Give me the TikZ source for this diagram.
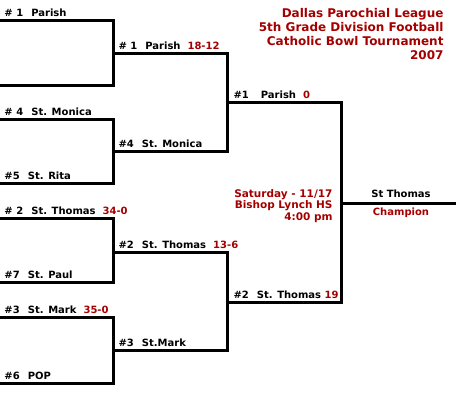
\documentclass[tikz,border=0pt]{standalone}
\usepackage{fontspec}
\setmainfont{DejaVu Sans}
\usetikzlibrary{positioning}
\definecolor{bowlred}{RGB}{165,0,0}
\tikzset{team/.style={anchor=base west,inner sep=0pt,font=\bfseries\fontsize{10}{12}\selectfont},
  hdr/.style={anchor=north east,inner sep=0pt,align=right,text=bowlred,font=\bfseries\fontsize{12}{14}\selectfont},
  info/.style={anchor=north east,inner sep=0pt,align=right,text=bowlred,font=\bfseries\fontsize{10.5}{11.5}\selectfont}}
\newcommand{\pts}[1]{\hspace{7pt}\textcolor{bowlred}{#1}}
\newcommand{\gp}{\hspace{8pt}}
\begin{document}
\begin{tikzpicture}[x=1pt,y=-1pt,line width=3pt,line join=miter]
\useasboundingbox (0,0) rectangle (456,411);
% --- title
\node[hdr] (title) at (445,7) {Dallas Parochial League\\5th Grade Division Football\\Catholic Bowl Tournament\\2007};
% --- first round
\draw (0,21) -- (113,21) -- (113,86) -- (0,86);
\draw (0,120) -- (113,120) -- (113,184) -- (0,184);
\draw (0,219) -- (113,219) -- (113,283) -- (0,283);
\draw (0,318) -- (113,318) -- (113,384) -- (0,384);
\node[team] (parish1) at (3,17) {\# 1\gp Parish};
\node[team] (monica1) at (3,116) {\# 4\gp St. Monica};
\node[team] (rita1) at (3,180) {\#5\gp St. Rita};
\node[team] (thomas1) at (3,215) {\# 2\gp St. Thomas\pts{34-0}};
\node[team] (paul1) at (3,279) {\#7\gp St. Paul};
\node[team] (mark1) at (3,314) {\#3\gp St. Mark\pts{35-0}};
\node[team] (pop1) at (3,380) {\#6\gp POP};
% --- second round
\draw (113,54) -- (227,54) -- (227,152) -- (113,152);
\draw (113,253) -- (227,253) -- (227,351) -- (113,351);
\node[team] (parish2) at (117,50) {\# 1\gp Parish\pts{18-12}};
\node[team] (monica2) at (117,148) {\#4\gp St. Monica};
\node[team] (thomas2) at (117,249) {\#2\gp St. Thomas\pts{13-6}};
\node[team] (mark2) at (117,347) {\#3\gp St.Mark};
% --- final
\draw (227,103) -- (341,103) -- (341,303) -- (227,303);
\draw (341,204) -- (456,204);
\node[team] (parish3) at (232,99) {\#1\hspace{12pt}Parish\pts{0}};
\node[team] (thomas3) at (232,299) {\#2\gp St. Thomas \textcolor{bowlred}{19}};
\node[info] (game) at (334,188) {Saturday - 11/17\\Bishop Lynch HS\\4:00 pm};
\node[team,anchor=base] (champ) at (401,198) {St Thomas};
\node[team,anchor=base,text=bowlred] (champlbl) at (401,216) {Champion};
\end{tikzpicture}
\end{document}
